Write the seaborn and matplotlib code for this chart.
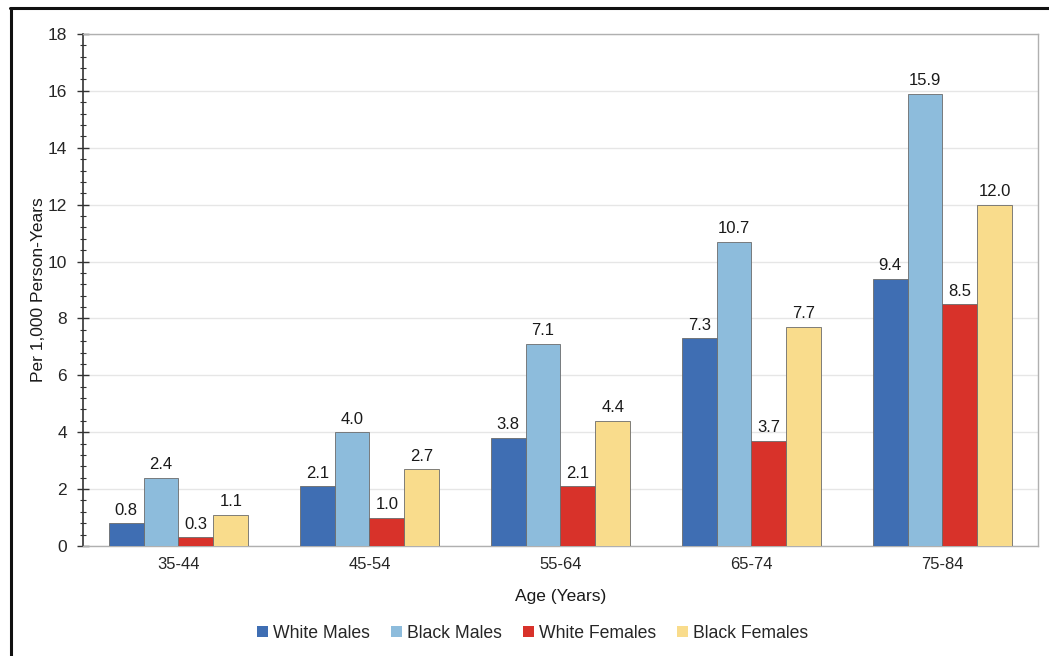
import numpy as np
import pandas as pd
import matplotlib
matplotlib.use("Agg")
import matplotlib.pyplot as plt
import seaborn as sns
from matplotlib.ticker import MultipleLocator
from matplotlib.lines import Line2D
from matplotlib.patches import Patch

age_groups = ["35-44", "45-54", "55-64", "65-74", "75-84"]
series_names = ["White Males", "Black Males", "White Females", "Black Females"]
white_males = [0.8, 2.1, 3.8, 7.3, 9.4]
black_males = [2.4, 4.0, 7.1, 10.7, 15.9]
white_females = [0.3, 1.0, 2.1, 3.7, 8.5]
black_females = [1.1, 2.7, 4.4, 7.7, 12.0]
colors = ["#3F6EB3", "#8DBCDC", "#D8322A", "#F9DC8C"]

rows = []
for name, vals in zip(series_names, [white_males, black_males, white_females, black_females]):
    for g, v in zip(age_groups, vals):
        rows.append({"Age": g, "Group": name, "Value": v})
df = pd.DataFrame(rows)

sns.set_theme(style="white")
plt.rcParams["font.family"] = ["Liberation Sans", "DejaVu Sans"]

fig = plt.figure(figsize=(10.49, 6.56), dpi=100)
ax = fig.add_axes([0.0791, 0.1677, 0.9104, 0.7805])

sns.barplot(data=df, x="Age", y="Value", hue="Group", order=age_groups,
            hue_order=series_names, palette=colors, width=0.73, gap=0,
            edgecolor="#6b6b6b", linewidth=0.6, saturation=1, errorbar=None,
            legend=False, ax=ax, zorder=3)

for cont in ax.containers:
    ax.bar_label(cont, fmt="%.1f", padding=4, fontsize=12, color="#1a1a1a")

ax.set_ylim(0, 18)
ax.set_xlim(-0.5, 4.5)
ax.yaxis.set_major_locator(MultipleLocator(2))
ax.yaxis.set_minor_locator(MultipleLocator(0.4))
ax.grid(axis="y", which="major", color="#e6e6e6", linewidth=1, zorder=0)
ax.set_axisbelow(True)

ax.tick_params(axis="y", which="major", direction="inout", length=9, width=1,
               color="#333333", labelsize=12.5, pad=7, left=True)
ax.tick_params(axis="y", which="minor", direction="inout", length=5, width=0.8,
               color="#333333", left=True)
ax.tick_params(axis="x", which="both", length=0, labelsize=12, pad=8)

for s in ["top", "right", "bottom"]:
    ax.spines[s].set_visible(True)
    ax.spines[s].set_color("#b0b0b0")
    ax.spines[s].set_linewidth(1)
ax.spines["left"].set_color("#333333")
ax.spines["left"].set_linewidth(1.2)

ax.set_xlabel("Age (Years)", fontsize=12.5, labelpad=12, color="#1a1a1a")
ax.set_ylabel("Per 1,000 Person-Years", fontsize=12.5, labelpad=1, color="#1a1a1a")

handles = [Patch(facecolor=c, edgecolor="none") for c in colors]
fig.legend(handles, series_names, loc="center", bbox_to_anchor=(0.508, 0.035),
           ncol=4, frameon=False, fontsize=12.7, handlelength=0.6, handleheight=0.6,
           handletextpad=0.3, columnspacing=1.2)

# outer frame (left and top)
fig.add_artist(Line2D([0.0105, 0.0105], [0, 0.988], transform=fig.transFigure,
                      color="#111111", linewidth=2.2))
fig.add_artist(Line2D([0.0095, 1.0], [0.988, 0.988], transform=fig.transFigure,
                      color="#111111", linewidth=2.2))

fig.savefig("out.png", dpi=100)
